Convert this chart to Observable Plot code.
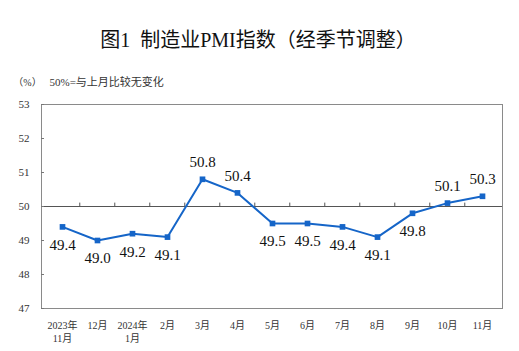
<!DOCTYPE html>
<html>
<head>
<meta charset="utf-8">
<script src="https://cdn.jsdelivr.net/npm/d3@7"></script>
<script src="https://cdn.jsdelivr.net/npm/@observablehq/plot@0.6"></script>
<style>
  html, body { margin: 0; padding: 0; background: #fff; }
</style>
</head>
<body>
<div id="chart"></div>
<script>
const categories = ["2023年\n11月", "12月", "2024年\n1月", "2月", "3月", "4月", "5月", "6月", "7月", "8月", "9月", "10月", "11月"];
const pmi = [49.4, 49.0, 49.2, 49.1, 50.8, 50.4, 49.5, 49.5, 49.4, 49.1, 49.8, 50.1, 50.3];
const yTicks = [47, 48, 49, 50, 51, 52, 53];
const baseline = 50;
const title = "图1  制造业PMI指数（经季节调整）";
const unit = "（%）";
const note = "50%=与上月比较无变化";

const rows = categories.map((c, i) => ({ month: c, value: pmi[i] }));

const W = 519, H = 351, mL = 41, mR = 17, mT = 104, mB = 43;
const step = (W - mL - mR) / categories.length;
const blue = "#1565c8";
const serif = "'Liberation Serif', 'Noto Sans CJK SC', serif";

const chart = Plot.plot({
  width: W,
  height: H,
  marginTop: mT,
  marginBottom: mB,
  marginLeft: mL,
  marginRight: mR,
  style: { fontFamily: serif, background: "#fff", color: "#222", overflow: "visible" },
  x: { type: "point", domain: categories, padding: 0.5, label: null },
  y: { domain: [47, 53], label: null },
  marks: [
    Plot.frame({ stroke: "#8a8a8a" }),
    Plot.ruleY([baseline], { stroke: "#555", strokeWidth: 1.2 }),
    Plot.ruleX(categories.slice(1), { x: d => d, y1: baseline, y2: baseline + 0.1, dx: -step / 2, stroke: "#555" }),
    Plot.axisY(yTicks, { tickSize: -3, tickPadding: 15, fontSize: 11, stroke: "#777", fill: "#333", label: null }),
    Plot.axisX({ tickSize: 0, tickPadding: 11, fontSize: 10, lineHeight: 1.3, fill: "#333", label: null }),
    Plot.line(rows, { x: "month", y: "value", stroke: blue, strokeWidth: 2 }),
    Plot.dot(rows, { x: "month", y: "value", symbol: "square", fill: blue, r: 3.2 }),
    Plot.text(rows, { filter: d => d.value > baseline, x: "month", y: "value", text: d => d.value.toFixed(1), dy: -17, fontSize: 15, fill: "#111" }),
    Plot.text(rows, { filter: d => d.value <= baseline, x: "month", y: "value", text: d => d.value.toFixed(1), dy: 18, fontSize: 15, fill: "#111" }),
    Plot.text([title], { text: d => d, frameAnchor: "top", textAnchor: "middle", lineAnchor: "middle", dx: -14, dy: -64, fontSize: 20, fill: "#111" }),
    Plot.text([unit], { text: d => d, frameAnchor: "top-left", textAnchor: "middle", lineAnchor: "middle", dx: -14, dy: -22, fontSize: 10, fill: "#333" }),
    Plot.text([note], { text: d => d, frameAnchor: "top-left", textAnchor: "start", lineAnchor: "middle", dx: 8, dy: -22, fontSize: 11, fill: "#333" })
  ]
});
document.getElementById("chart").appendChild(chart);
</script>
</body>
</html>
